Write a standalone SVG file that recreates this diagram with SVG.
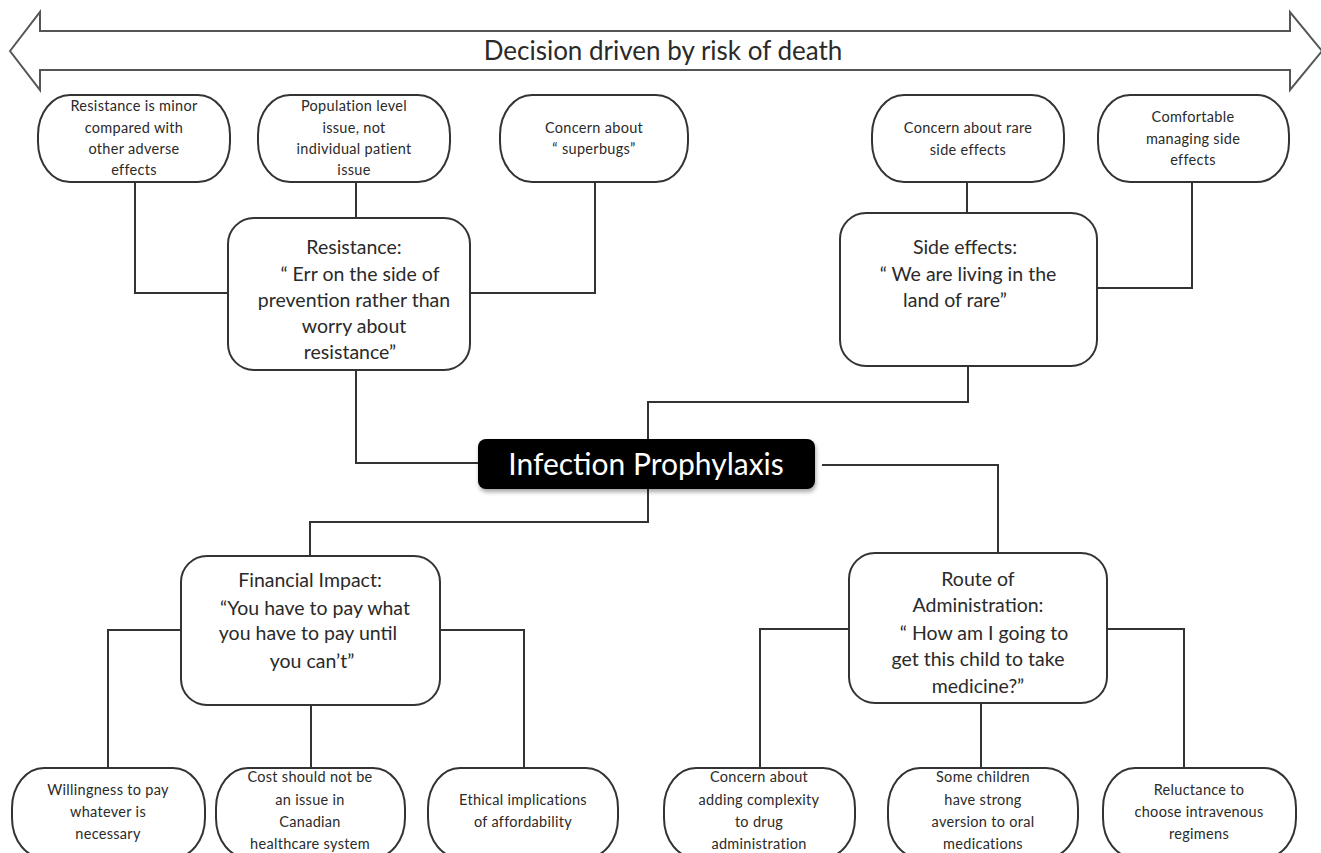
<svg xmlns="http://www.w3.org/2000/svg" width="1321" height="853" viewBox="0 0 1321 853">
<style>
.pill{fill:#fff;stroke:#333;stroke-width:2}
.box{fill:#fff;stroke:#333;stroke-width:2}
.s{font-family:Lato,"Open Sans","Liberation Sans",sans-serif;font-size:14.5px;letter-spacing:0.3px;fill:#2a2a2a;text-anchor:middle}
.m{font-family:Lato,"Open Sans","Liberation Sans",sans-serif;font-size:19.5px;fill:#2a2a2a;text-anchor:middle}
.c{fill:none;stroke:#333;stroke-width:2}
</style>
<defs>
<filter id="sh" x="-10%" y="-30%" width="120%" height="170%"><feDropShadow dx="1" dy="3" stdDeviation="2" flood-color="#000" flood-opacity="0.35"/></filter>
</defs>
<rect width="1321" height="853" fill="#fff"/>
<g id="arrow">
<path d="M10,51 L40,12 L40,31 L1290,31 L1290,12 L1322,51 L1290,90 L1290,70 L40,70 L40,90 Z" fill="#fff" stroke="#555" stroke-width="2"/>
<text x="663" y="60" font-family="Lato,'Open Sans','Liberation Sans',sans-serif" font-size="26" fill="#2a2a2a" text-anchor="middle">Decision driven by risk of death</text>
</g>
<g id="connectors">
<path class="c" d="M135,182 V293 H228"/>
<path class="c" d="M356,182 V218"/>
<path class="c" d="M595,182 V293 H470"/>
<path class="c" d="M967,182 V213"/>
<path class="c" d="M1192,182 V288 H1097"/>
<path class="c" d="M356,370 V463 H478"/>
<path class="c" d="M968,366 V402 H648 V439"/>
<path class="c" d="M822,465 H998 V553"/>
<path class="c" d="M648,489 V522 H310 V556"/>
<path class="c" d="M181,630 H108 V768"/>
<path class="c" d="M440,630 H524 V768"/>
<path class="c" d="M311,705 V768"/>
<path class="c" d="M849,629 H760 V768"/>
<path class="c" d="M1107,629 H1184 V768"/>
<path class="c" d="M981,703 V768"/>
</g>
<g id="n-a"><rect class="pill" x="38" y="95" width="192" height="87" rx="32" ry="40"/>
<text class="s" x="134" y="111">Resistance is minor</text><text class="s" x="134" y="133">compared with</text><text class="s" x="134" y="154">other adverse</text><text class="s" x="134" y="175">effects</text></g>
<g id="n-b"><rect class="pill" x="258" y="95" width="192" height="87" rx="32" ry="40"/>
<text class="s" x="354" y="111">Population level</text><text class="s" x="354" y="133">issue, not</text><text class="s" x="354" y="154">individual patient</text><text class="s" x="354" y="175">issue</text></g>
<g id="n-c"><rect class="pill" x="500" y="95" width="188" height="87" rx="32" ry="40"/>
<text class="s" x="594" y="133">Concern about</text><text class="s" x="594" y="154">“ superbugs”</text></g>
<g id="n-d"><rect class="pill" x="872" y="95" width="192" height="87" rx="32" ry="40"/>
<text class="s" x="968" y="133">Concern about rare</text><text class="s" x="968" y="155">side effects</text></g>
<g id="n-e"><rect class="pill" x="1098" y="95" width="191" height="87" rx="32" ry="40"/>
<text class="s" x="1193" y="122">Comfortable</text><text class="s" x="1193" y="144">managing side</text><text class="s" x="1193" y="165">effects</text></g>
<g id="n-resistance"><rect class="box" x="228" y="218" width="242" height="152" rx="26"/>
<text class="m" x="354" y="254">Resistance:</text><text class="m" x="360" y="281">“ Err on the side of</text><text class="m" x="354" y="307">prevention rather than</text><text class="m" x="354" y="333">worry about</text><text class="m" x="350" y="359">resistance”</text></g>
<g id="n-side"><rect class="box" x="840" y="213" width="257" height="153" rx="26"/>
<text class="m" x="965" y="254">Side effects:</text><text class="m" x="968" y="281">“ We are living in the</text><text class="m" x="955" y="307">land of rare”</text></g>
<g id="n-center"><rect x="478" y="439" width="337" height="50" rx="8" fill="#000" filter="url(#sh)"/>
<text x="646" y="475" font-family="Lato,'Open Sans','Liberation Sans',sans-serif" font-size="30" fill="#fff" text-anchor="middle">Infection Prophylaxis</text></g>
<g id="n-financial"><rect class="box" x="181" y="556" width="259" height="149" rx="26"/>
<text class="m" x="310" y="587">Financial Impact:</text><text class="m" x="315" y="615">“You have to pay what</text><text class="m" x="308" y="640">you have to pay until</text><text class="m" x="312" y="668">you can’t”</text></g>
<g id="n-route"><rect class="box" x="849" y="553" width="258" height="150" rx="26"/>
<text class="m" x="978" y="586">Route of</text><text class="m" x="978" y="612">Administration:</text><text class="m" x="984" y="640">“ How am I going to</text><text class="m" x="978" y="666">get this child to take</text><text class="m" x="978" y="693">medicine?”</text></g>
<g id="n-w"><rect class="pill" x="12" y="768" width="193" height="90" rx="32" ry="40"/>
<text class="s" x="108" y="795">Willingness to pay</text><text class="s" x="108" y="817">whatever is</text><text class="s" x="108" y="839">necessary</text></g>
<g id="n-cost"><rect class="pill" x="216" y="768" width="189" height="90" rx="32" ry="40"/>
<text class="s" x="310" y="782">Cost should not be</text><text class="s" x="310" y="805">an issue in</text><text class="s" x="310" y="827">Canadian</text><text class="s" x="310" y="849">healthcare system</text></g>
<g id="n-eth"><rect class="pill" x="428" y="768" width="190" height="90" rx="32" ry="40"/>
<text class="s" x="523" y="805">Ethical implications</text><text class="s" x="523" y="827">of affordability</text></g>
<g id="n-cx"><rect class="pill" x="664" y="768" width="191" height="90" rx="32" ry="40"/>
<text class="s" x="759" y="782">Concern about</text><text class="s" x="759" y="805">adding complexity</text><text class="s" x="759" y="827">to  drug</text><text class="s" x="759" y="849">administration</text></g>
<g id="n-sc"><rect class="pill" x="888" y="768" width="190" height="90" rx="32" ry="40"/>
<text class="s" x="983" y="782">Some children</text><text class="s" x="983" y="805">have strong</text><text class="s" x="983" y="827">aversion to oral</text><text class="s" x="983" y="849">medications</text></g>
<g id="n-rel"><rect class="pill" x="1103" y="768" width="193" height="90" rx="32" ry="40"/>
<text class="s" x="1199" y="795">Reluctance to</text><text class="s" x="1199" y="817">choose intravenous</text><text class="s" x="1199" y="839">regimens</text></g>
</svg>
